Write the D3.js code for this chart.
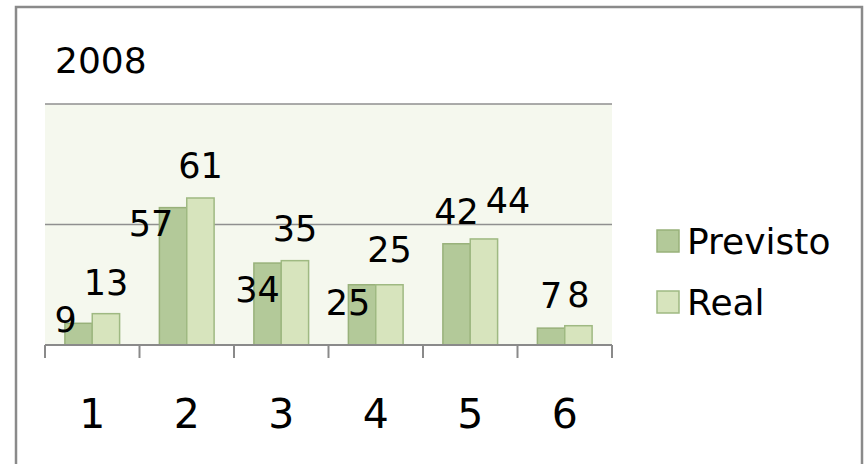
<!DOCTYPE html>
<html>
<head>
<meta charset="utf-8">
<script src="https://cdn.jsdelivr.net/npm/d3@7/dist/d3.min.js"></script>
<style>
  html, body { margin: 0; padding: 0; background: #fff; }
  svg { display: block; }
  text { font-family: "DejaVu Sans", Verdana, sans-serif; fill: #000; }
</style>
</head>
<body>
<svg id="chart" width="864" height="464"></svg>
<script>
// ---- data ----
const title = "2008";
const categories = ["1", "2", "3", "4", "5", "6"];
const seriesNames = ["Previsto", "Real"];
const previsto = [9, 57, 34, 25, 42, 7];
const real = [13, 61, 35, 25, 44, 8];
const yTicks = [0, 50, 100];

// manual label nudges (px) as placed in the original
const labelNudge = [
  [[-13, 29], [-22, 48], [-10, 59], [-14, 50], [0, 0], [0, 0]],
  [[0, 1], [0, 0], [0, 0], [0, -3], [24, -6], [0, 1]]
];

const fills = ["#b3c999", "#d7e4bd"];
const strokes = ["#98b17a", "#9fb982"];

const svg = d3.select("#chart");

// outer border
svg.append("rect")
  .attr("x", 16).attr("y", 7)
  .attr("width", 846).attr("height", 470)
  .attr("fill", "#fff").attr("stroke", "#8a8a8a").attr("stroke-width", 2.5);

// title
svg.append("text").attr("x", 55).attr("y", 73)
  .style("font-size", "36px").text(title);

const plot = { left: 45, right: 612, top: 104, bottom: 345 };

const x0 = d3.scaleBand().domain(categories)
  .range([plot.left, plot.right]).paddingInner(0).paddingOuter(0);
const x1 = d3.scaleBand().domain(seriesNames)
  .range([0, x0.bandwidth()]).paddingInner(0).paddingOuter(20 / 27.5 );
const y = d3.scaleLinear().domain([0, 100]).range([plot.bottom, plot.top]);

// plot background
svg.append("rect")
  .attr("x", plot.left).attr("y", y(100))
  .attr("width", plot.right - plot.left).attr("height", y(0) - y(100))
  .attr("fill", "#f5f8ee");

// gridlines
svg.append("g").selectAll("line").data(yTicks.filter(t => t > 0)).join("line")
  .attr("x1", plot.left).attr("x2", plot.right)
  .attr("y1", d => y(d)).attr("y2", d => y(d))
  .attr("stroke", "#8f8f8f").attr("stroke-width", 1.5);

// bars
const series = [previsto, real];
series.forEach((vals, si) => {
  svg.append("g").selectAll("rect").data(vals).join("rect")
    .attr("x", (d, i) => x0(categories[i]) + x1(seriesNames[si]))
    .attr("y", d => y(d))
    .attr("width", x1.bandwidth())
    .attr("height", d => y(0) - y(d))
    .attr("fill", fills[si])
    .attr("stroke", strokes[si]).attr("stroke-width", 1.5);
});

// x axis
const ax = svg.append("g").attr("transform", `translate(0,${plot.bottom})`);
ax.append("line").attr("x1", plot.left).attr("x2", plot.right)
  .attr("y1", 0).attr("y2", 0).attr("stroke", "#8a8a8a").attr("stroke-width", 2);
const tickPos = categories.map(c => x0(c)).concat([plot.right]);
ax.selectAll("line.tk").data(tickPos).join("line").attr("class", "tk")
  .attr("x1", d => d).attr("x2", d => d).attr("y1", 0).attr("y2", 13)
  .attr("stroke", "#8a8a8a").attr("stroke-width", 2);
ax.selectAll("text.tl").data(categories).join("text").attr("class", "tl")
  .attr("x", d => x0(d) + x0.bandwidth() / 2)
  .attr("y", 83)
  .attr("text-anchor", "middle")
  .style("font-size", "41px")
  .text(d => d);

// data labels
series.forEach((vals, si) => {
  svg.append("g").selectAll("text").data(vals).join("text")
    .attr("x", (d, i) => x0(categories[i]) + x1(seriesNames[si]) + x1.bandwidth() / 2 + labelNudge[si][i][0])
    .attr("y", (d, i) => y(d) - 20 + labelNudge[si][i][1])
    .attr("text-anchor", "middle")
    .style("font-size", "35px")
    .text(d => d);
});

// legend
const lg = svg.append("g");
seriesNames.forEach((name, si) => {
  const cy = 241 + si * 61;
  lg.append("rect").attr("x", 657).attr("y", cy - 11)
    .attr("width", 22).attr("height", 22)
    .attr("fill", fills[si]).attr("stroke", strokes[si]).attr("stroke-width", 1.5);
  lg.append("text").attr("x", 687).attr("y", cy + 12.5)
    .style("font-size", "36px").text(name);
});
</script>
</body>
</html>
